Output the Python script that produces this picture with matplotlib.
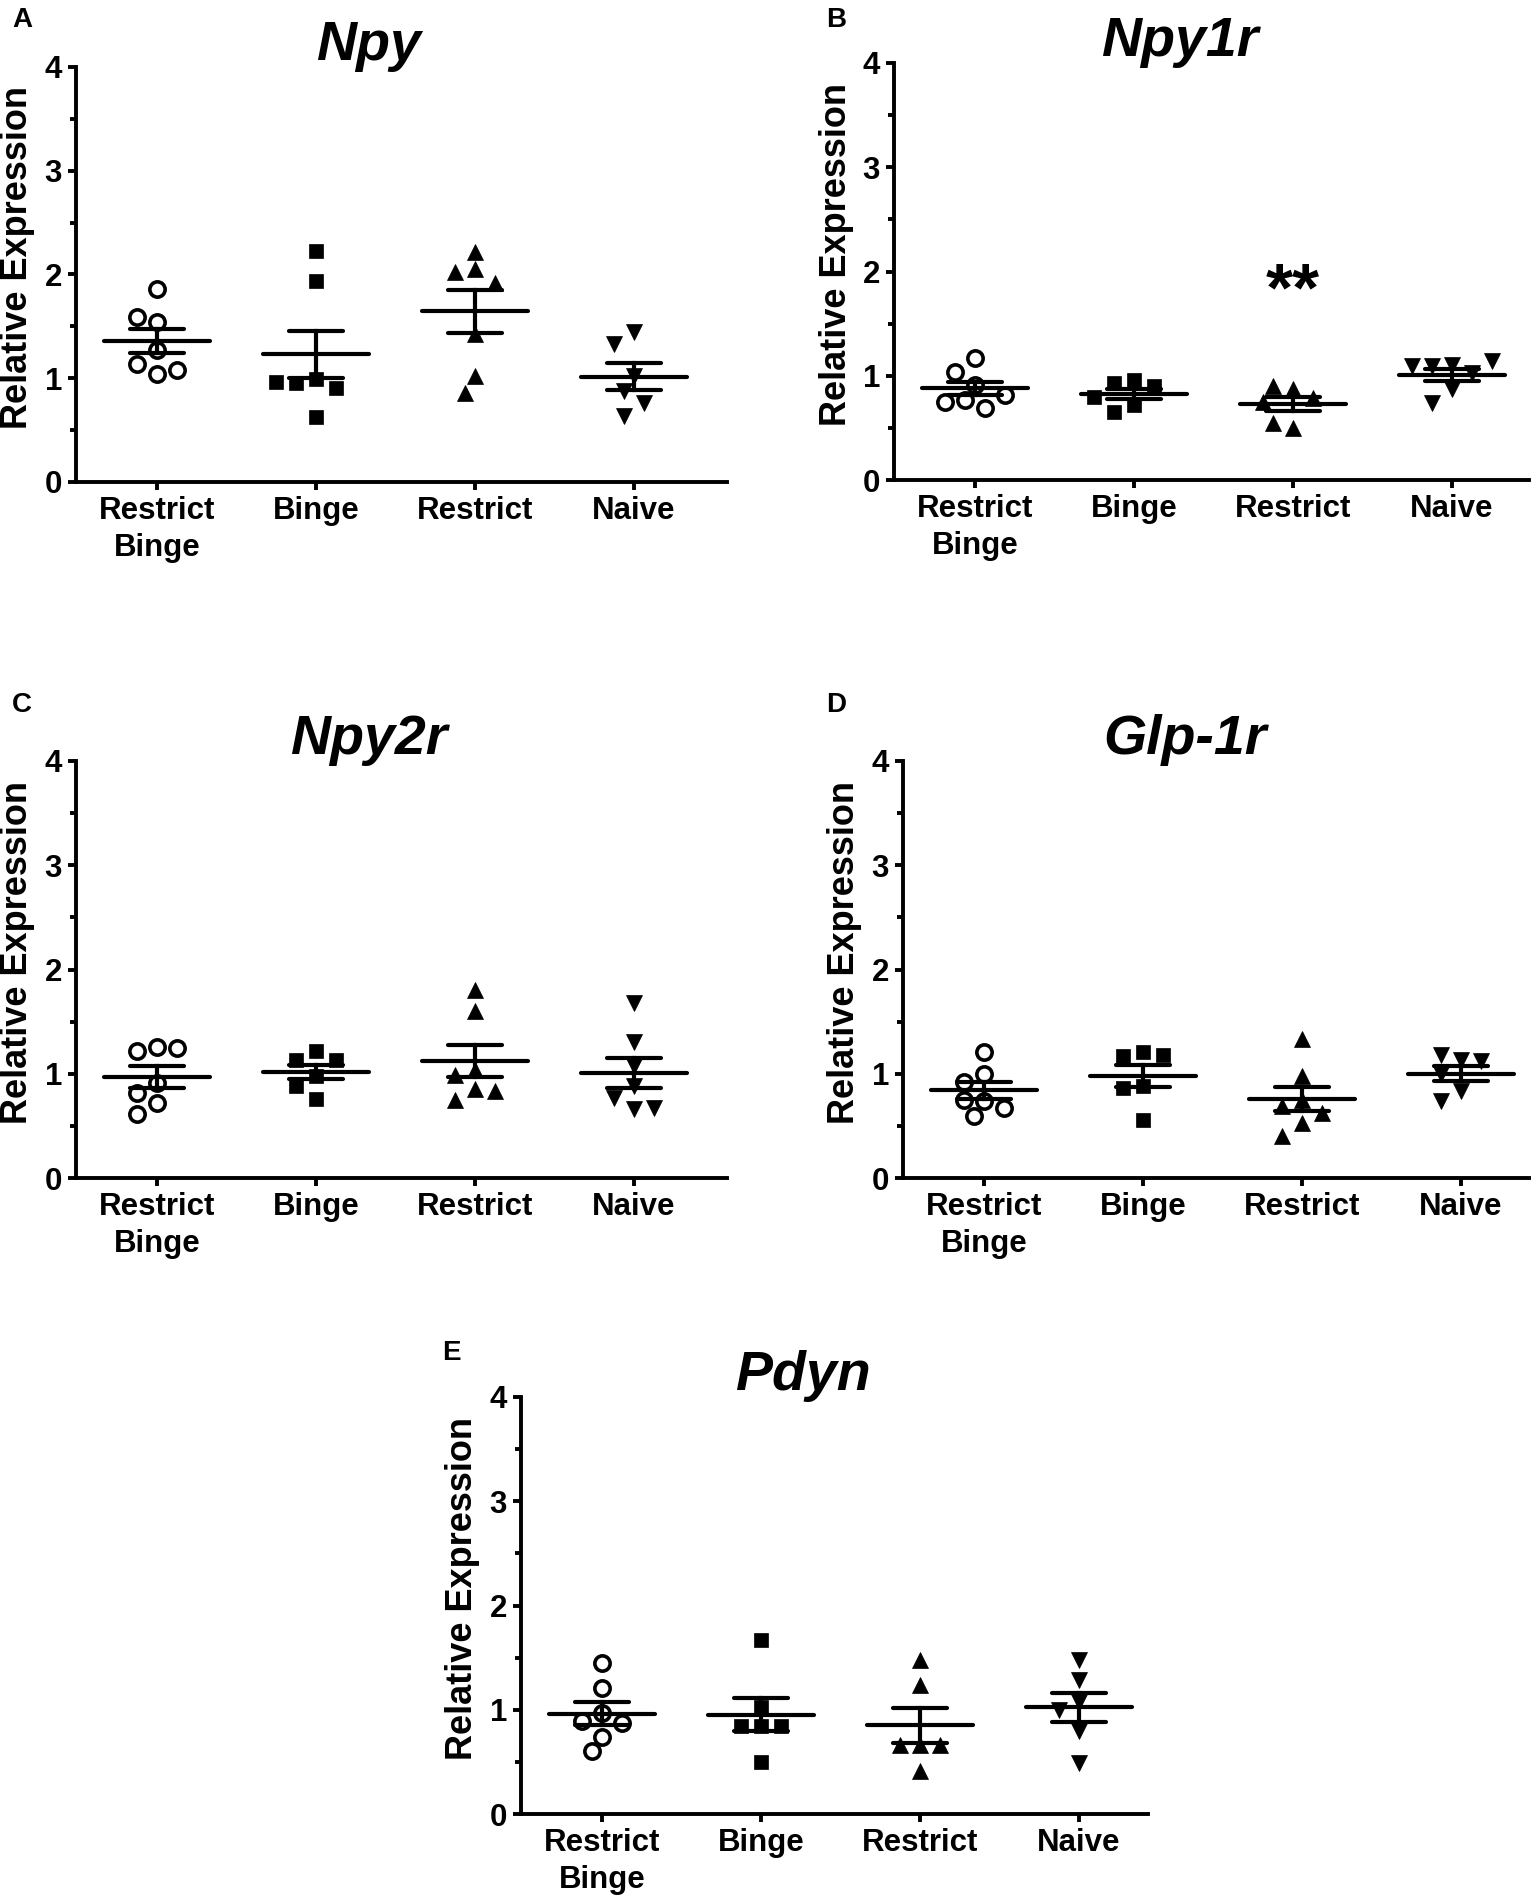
import numpy as np
import matplotlib
matplotlib.use("Agg")
import matplotlib.pyplot as plt

plt.rcParams['font.family'] = ['Liberation Sans', 'DejaVu Sans']
plt.rcParams['font.weight'] = 'bold'

# ---------------- data ----------------
groups = ["Restrict\nBinge", "Binge", "Restrict", "Naive"]
markers = ['o', 's', '^', 'v']
yticks = [0, 1, 2, 3, 4]
ylabel = "Relative Expression"

npy_rb = [1.86, 1.54, 1.59, 1.27, 1.14, 1.04, 1.08]
npy_b = [2.23, 1.94, 0.99, 0.95, 0.91, 0.96, 0.63]
npy_r = [2.22, 2.05, 2.02, 1.92, 1.43, 1.02, 0.86]
npy_n = [1.45, 1.33, 1.02, 0.88, 0.76, 0.64]

npy1r_rb = [1.17, 1.04, 0.91, 0.77, 0.69, 0.75, 0.82]
npy1r_b = [0.96, 0.93, 0.90, 0.80, 0.72, 0.65]
npy1r_r = [0.87, 0.90, 0.79, 0.75, 0.50, 0.55]
npy1r_n = [1.10, 1.09, 1.03, 1.09, 1.14, 0.87, 0.74]

npy2r_rb = [1.26, 1.22, 1.25, 0.91, 0.82, 0.72, 0.61]
npy2r_b = [1.22, 1.13, 1.13, 0.98, 0.88, 0.76]
npy2r_r = [1.80, 1.60, 1.04, 0.99, 0.85, 0.83, 0.75]
npy2r_n = [1.68, 1.30, 1.07, 0.88, 0.77, 0.66, 0.67]

glp1r_rb = [1.21, 1.00, 0.92, 0.74, 0.75, 0.67, 0.59]
glp1r_b = [1.21, 1.17, 1.18, 0.88, 0.86, 0.56]
glp1r_r = [1.33, 0.98, 0.75, 0.69, 0.62, 0.53, 0.40]
glp1r_n = [1.13, 1.18, 1.12, 1.00, 0.83, 0.74]

pdyn_rb = [1.45, 1.21, 0.97, 0.89, 0.87, 0.74, 0.60]
pdyn_b = [1.67, 1.03, 0.84, 0.84, 0.84, 0.50]
pdyn_r = [1.48, 1.24, 0.66, 0.66, 0.66, 0.41]
pdyn_n = [1.48, 1.29, 1.07, 1.00, 0.80, 0.49]

panels = [
    ("A", "Npy", [npy_rb, npy_b, npy_r, npy_n], None),
    ("B", "Npy1r", [npy1r_rb, npy1r_b, npy1r_r, npy1r_n], (3, 1.80, "**")),
    ("C", "Npy2r", [npy2r_rb, npy2r_b, npy2r_r, npy2r_n], None),
    ("D", "Glp-1r", [glp1r_rb, glp1r_b, glp1r_r, glp1r_n], None),
    ("E", "Pdyn", [pdyn_rb, pdyn_b, pdyn_r, pdyn_n], None),
]

# ---------------- layout ----------------
W, H = 1535, 1903
fig = plt.figure(figsize=(W / 100, H / 100), dpi=100)

# axes boxes in pixels: left, top, right, bottom
boxes = {
    "A": (76, 67, 727, 482),
    "B": (894, 63, 1529, 480),
    "C": (76, 761, 727, 1178),
    "D": (903, 761, 1529, 1178),
    "E": (521, 1397, 1148, 1814),
}
letter_pos = {"A": (22, 20), "B": (836, 20), "C": (22, 705), "D": (836, 705), "E": (451, 1353)}

PX_PER_UNIT_X = 159.0


def swarm(vals, ypx_per_unit, xpx_per_unit, diam=17.0, step=10.0):
    placed = []
    offs = []
    cands = [0.0]
    for k in range(1, 8):
        cands += [-k * step, k * step]
    for v in vals:
        yp = v * ypx_per_unit
        chosen = 0.0
        for c in cands:
            ok = True
            for (px, py) in placed:
                if (px - c) ** 2 + (py - yp) ** 2 < diam ** 2:
                    ok = False
                    break
            if ok:
                chosen = c
                break
        placed.append((chosen, yp))
        offs.append(chosen / xpx_per_unit)
    return np.array(offs)


lw = 3.0
for letter, title, data, annot in panels:
    l, t, r, b = boxes[letter]
    wpx, hpx = r - l, b - t
    ax = fig.add_axes([l / W, 1 - b / H, wpx / W, hpx / H])
    x0 = 0.49
    ax.set_xlim(x0, x0 + wpx / PX_PER_UNIT_X)
    ax.set_ylim(0, 4)
    ypu = hpx / 4.0
    for i, (vals, mk) in enumerate(zip(data, markers)):
        pos = i + 1
        vals = np.asarray(vals, dtype=float)
        offs = swarm(vals, ypu, PX_PER_UNIT_X)
        mean = vals.mean()
        sem = vals.std(ddof=1) / np.sqrt(len(vals))
        if mk == 'o':
            ax.plot(pos + offs, vals, linestyle='none', marker='o', ms=11,
                    mfc='white', mec='black', mew=2.6, zorder=3)
        else:
            ms = 10 if mk == 's' else 11.5
            ax.plot(pos + offs, vals, linestyle='none', marker=mk, ms=ms,
                    mfc='black', mec='black', mew=0.5, zorder=3)
        ax.plot([pos - 0.335, pos + 0.335], [mean, mean], color='black', lw=lw,
                solid_capstyle='round', zorder=4)
        ax.plot([pos, pos], [mean - sem, mean + sem], color='black', lw=lw, zorder=4)
        for yy in (mean - sem, mean + sem):
            ax.plot([pos - 0.17, pos + 0.17], [yy, yy], color='black', lw=lw,
                    solid_capstyle='round', zorder=4)
    if annot is not None:
        ax.text(annot[0], annot[1], annot[2], ha='center', va='center',
                fontsize=50, fontweight='bold')

    for s in ('top', 'right'):
        ax.spines[s].set_visible(False)
    for s in ('left', 'bottom'):
        ax.spines[s].set_linewidth(2.8)
    ax.set_xticks([1, 2, 3, 4])
    ax.set_xticklabels(groups, fontsize=22.5, fontweight='bold', linespacing=1.3)
    ax.set_yticks(yticks)
    ax.set_yticklabels([str(v) for v in yticks], fontsize=22.5, fontweight='bold')
    ax.set_yticks([0.5, 1.5, 2.5, 3.5], minor=True)
    ax.tick_params(axis='both', which='major', direction='out', length=6, width=2.8, pad=4)
    ax.tick_params(axis='y', which='minor', direction='out', length=4, width=2.8)
    ax.set_ylabel(ylabel, fontsize=26, fontweight='bold', va='center')
    ax.yaxis.set_label_coords(-58.0 / wpx, 0.54)
    ax.text(0.45, 1 + 21.0 / hpx, title, transform=ax.transAxes, ha='center',
            va='center', fontsize=40, fontweight='bold', fontstyle='italic')
    lx, ly = letter_pos[letter]
    fig.text(lx / W, 1 - ly / H, letter, ha='center', va='center',
             fontsize=20, fontweight='bold')

fig.savefig("out.png", dpi=100, facecolor='white')
